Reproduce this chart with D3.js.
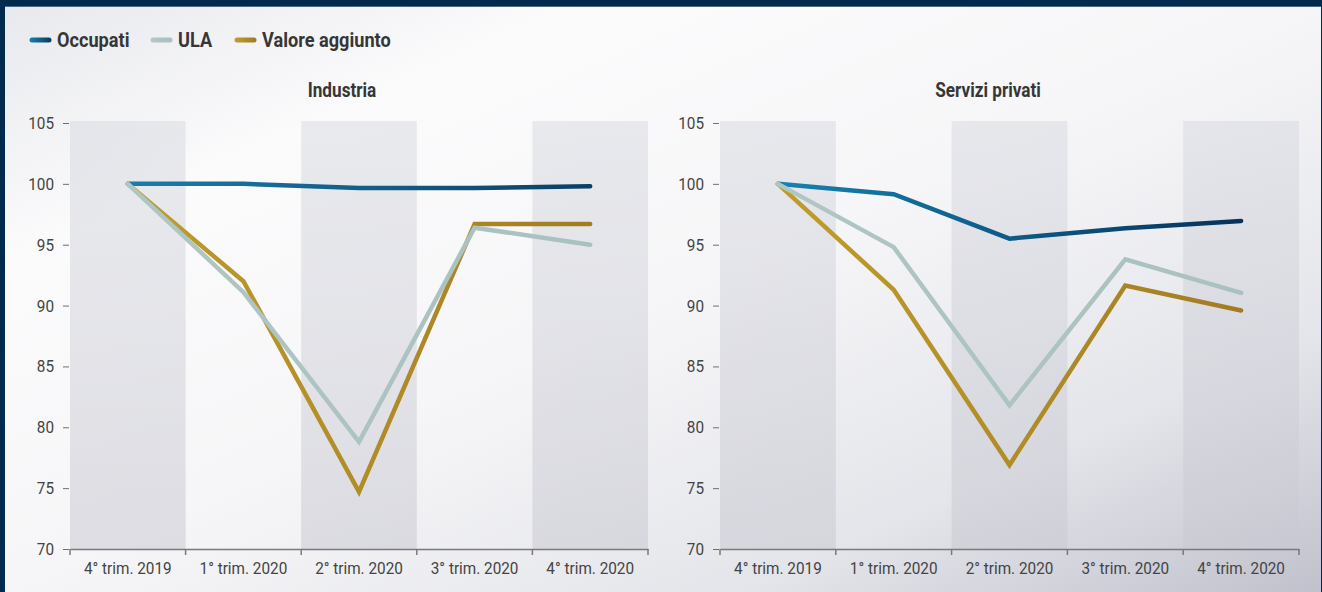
<!DOCTYPE html>
<html>
<head>
<meta charset="utf-8">
<script src="https://cdn.jsdelivr.net/npm/d3@7"></script>
<style>
  html, body { margin: 0; padding: 0; background: #022a4c; }
  svg { display: block; font-family: "Roboto", "Noto Sans", sans-serif; }
</style>
</head>
<body>
<svg id="chart" width="1322" height="592"></svg>
<script>
// Quarters on the x axis and y axis ticks
const quarters = ["4° trim. 2019", "1° trim. 2020", "2° trim. 2020", "3° trim. 2020", "4° trim. 2020"];
const yTicks = [70, 75, 80, 85, 90, 95, 100, 105];

// Series names (legend order)
const seriesNames = ["Occupati", "ULA", "Valore aggiunto"];

// Industria (index, 4° trim. 2019 = 100)
const industriaOccupati = [100, 100, 99.65, 99.65, 99.8];
const industriaUla      = [100, 91.1, 78.8, 96.4, 95.0];
const industriaValore   = [100, 92.0, 74.7, 96.7, 96.7];

// Servizi privati (index, 4° trim. 2019 = 100)
const serviziOccupati = [100, 99.15, 95.5, 96.35, 96.95];
const serviziUla      = [100, 94.8, 81.8, 93.8, 91.05];
const serviziValore   = [100, 91.3, 76.9, 91.65, 89.6];

const svg = d3.select("#chart");
const W = 1322, H = 592;

// narrow the glyphs a little for a condensed face
function condense(sel, factor) {
  sel.each(function () {
    const len = this.getComputedTextLength();
    d3.select(this).attr("textLength", len * factor).attr("lengthAdjust", "spacingAndGlyphs");
  });
}

const defs = svg.append("defs");

// panel background: soft diagonal sheen, darker toward the lower right
const bg = defs.append("linearGradient").attr("id", "bgGrad")
  .attr("x1", "0").attr("y1", "0").attr("x2", "1").attr("y2", "1");
[[0, "#e8e9ed"], [0.22, "#fbfbfc"], [0.5, "#f6f6f8"], [0.78, "#e4e5ea"], [1, "#c0c1cc"]]
  .forEach(([o, c]) => bg.append("stop").attr("offset", o).attr("stop-color", c));

// translucent band shading
const band = defs.append("linearGradient").attr("id", "bandGrad")
  .attr("x1", "0").attr("y1", "0").attr("x2", "0").attr("y2", "1");
band.append("stop").attr("offset", 0).attr("stop-color", "#d3d5dd").attr("stop-opacity", 0.45);
band.append("stop").attr("offset", 1).attr("stop-color", "#c9c9d2").attr("stop-opacity", 0.55);

// line colour gradients (userSpace per panel)
function lineGrad(id, x0, x1, c0, c1) {
  const g = defs.append("linearGradient").attr("id", id)
    .attr("gradientUnits", "userSpaceOnUse")
    .attr("x1", x0).attr("y1", 0).attr("x2", x1).attr("y2", 0);
  g.append("stop").attr("offset", 0).attr("stop-color", c0);
  g.append("stop").attr("offset", 1).attr("stop-color", c1);
}

// frame + panel
svg.append("rect").attr("x", 0).attr("y", 0).attr("width", W).attr("height", H).attr("fill", "#022a4c");
svg.append("rect").attr("x", 5).attr("y", 6).attr("width", W - 6).attr("height", 1).attr("fill", "#4a6a86");
svg.append("rect").attr("x", 5).attr("y", 7).attr("width", W - 6).attr("height", H - 7).attr("fill", "url(#bgGrad)");

// legend
const legendColors = {
  "Occupati": ["#1a7dab", "#0b3f66"],
  "ULA": ["#b3c8c7", "#a8c0bf"],
  "Valore aggiunto": ["#c09d2c", "#a37c22"]
};
const legendX = [30, 151, 235];
seriesNames.forEach((name, i) => {
  const x = legendX[i];
  lineGrad("leg" + i, x, x + 20, legendColors[name][0], legendColors[name][1]);
  svg.append("line").attr("x1", x + 2).attr("x2", x + 19).attr("y1", 40).attr("y2", 40)
    .attr("stroke", "url(#leg" + i + ")").attr("stroke-width", 5).attr("stroke-linecap", "round");
  svg.append("text").attr("class", "legtxt").attr("x", x + 27).attr("y", 47)
    .attr("font-size", 20.5).attr("font-weight", 700).attr("fill", "#363636")
    .text(name);
});
condense(svg.selectAll("text.legtxt"), 0.885);

function drawPanel(cfg) {
  const x = d3.scaleBand().domain(quarters).range([cfg.left, cfg.right]);
  const y = d3.scaleLinear().domain([70, 105]).range([549, 123]);
  const g = svg.append("g");

  // title
  const title = g.append("text").attr("x", cfg.titleX).attr("y", 97).attr("text-anchor", "middle")
    .attr("font-size", 19.5).attr("font-weight", 700).attr("fill", "#363636").text(cfg.title);
  condense(title, 0.88);

  // alternating bands
  g.selectAll("rect.band").data(quarters.filter((d, i) => i % 2 === 0)).join("rect")
    .attr("class", "band")
    .attr("x", d => x(d)).attr("width", x.bandwidth())
    .attr("y", y(105) - 2).attr("height", y(70) - y(105) + 2)
    .attr("fill", "url(#bandGrad)");

  // y axis
  const yAxis = g.append("g").attr("transform", `translate(${cfg.left - 1},0)`)
    .call(d3.axisLeft(y).tickValues(yTicks).tickSize(6).tickPadding(9));
  yAxis.select(".domain").remove();
  yAxis.selectAll(".tick line").attr("stroke", "#6f6f6f");
  yAxis.selectAll(".tick text").attr("font-size", 17).attr("fill", "#444")
    .attr("font-family", "Roboto, sans-serif");
  condense(yAxis.selectAll(".tick text"), 0.9);

  // x axis
  const xAxis = g.append("g").attr("transform", `translate(0,${y(70)})`)
    .call(d3.axisBottom(x).tickSize(0).tickPadding(13));
  xAxis.select(".domain").attr("stroke", "#7a7a7a").attr("stroke-width", 1.5);
  xAxis.selectAll(".tick text").attr("font-size", 17).attr("fill", "#444")
    .attr("font-family", "Roboto, sans-serif");
  condense(xAxis.selectAll(".tick text"), 0.9);
  const bounds = quarters.map(q => x(q)).concat([cfg.right]);
  g.selectAll("line.xt").data(bounds).join("line").attr("class", "xt")
    .attr("x1", d => d).attr("x2", d => d).attr("y1", y(70)).attr("y2", y(70) + 6)
    .attr("stroke", "#7a7a7a").attr("stroke-width", 1.5);

  const cx = q => x(q) + x.bandwidth() / 2;
  const line = d3.line().x((d, i) => cx(quarters[i])).y(d => y(d));

  cfg.series.forEach((s, k) => {
    const id = cfg.id + "l" + k;
    lineGrad(id, cx(quarters[0]), cx(quarters[4]), s.c0, s.c1);
    g.append("path").datum(s.values)
      .attr("d", line)
      .attr("fill", "none")
      .attr("stroke", `url(#${id})`)
      .attr("stroke-width", 4.5)
      .attr("stroke-linejoin", "miter")
      .attr("stroke-linecap", "round");
  });
}

drawPanel({
  id: "ind", title: "Industria", titleX: 342, left: 70, right: 648,
  series: [
    { values: industriaOccupati, c0: "#1a7dab", c1: "#0c3f66" },
    { values: industriaValore, c0: "#bf9d2c", c1: "#a37c22" },
    { values: industriaUla, c0: "#b0c6c5", c1: "#a9c1c0" }
  ]
});

drawPanel({
  id: "ser", title: "Servizi privati", titleX: 988, left: 720, right: 1299,
  series: [
    { values: serviziOccupati, c0: "#1682b0", c1: "#06325c" },
    { values: serviziValore, c0: "#bf9d2c", c1: "#a37c22" },
    { values: serviziUla, c0: "#b0c6c5", c1: "#a9c1c0" }
  ]
});
</script>
</body>
</html>
